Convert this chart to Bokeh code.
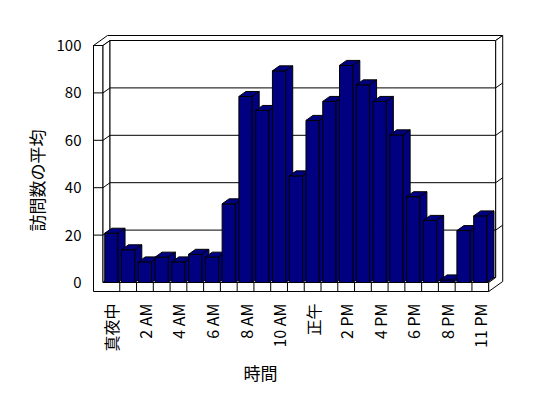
import math
from bokeh.plotting import figure
from bokeh.models import Range1d, FixedTicker, Title
from bokeh.embed import file_html
from bokeh.resources import INLINE

# ---- data ----
hours = ["真夜中", "1 AM", "2 AM", "3 AM", "4 AM", "5 AM", "6 AM", "7 AM",
         "8 AM", "9 AM", "10 AM", "11 AM", "正午", "1 PM", "2 PM", "3 PM",
         "4 PM", "5 PM", "6 PM", "7 PM", "8 PM", "10 PM", "11 PM"]
visits = [20.8, 13.8, 8.7, 10.7, 8.7, 11.9, 10.7, 33.2, 78.5, 72.6, 89.3, 45.0,
          68.4, 76.4, 91.6, 83.4, 76.4, 62.3, 36.2, 26.2, 1.1, 21.9, 28.1]
y_ticks = [0, 20, 40, 60, 80, 100]
x_label_idx = list(range(0, len(hours), 2))
x_title = "時間"
y_title = "訪問数の平均"

# ---- geometry (pixel scale -> data units) ----
PX = 16.77          # px per category
PY = 2.37           # px per value unit
DX = 7.0 / PX       # oblique depth offset
DY = 5.0 / PY
L1 = -0.5
R = len(hours) - 0.5
L0 = L1 - 9.5 / PX
YB = -9.0 / PY
YT = 100.0
HW = 6.65 / PX

x_start = L1 - 11.5 / PX
x_end = x_start + 415 / PX
y_end = 252 / PY
y_start = -11 / PY

FONT = "Noto Sans CJK JP"

p = figure(width=548, height=398, output_backend="svg", toolbar_location=None,
           x_range=Range1d(x_start, x_end), y_range=Range1d(y_start, y_end),
           min_border_left=91, min_border_right=42, min_border_top=30,
           min_border_bottom=105)
p.outline_line_color = None
p.xgrid.visible = False
p.ygrid.visible = False
p.background_fill_color = "white"
p.border_fill_color = "white"

# ---- walls & floor ----
shapes = [
    [(L0, YT), (L1, YT), (L1, 0), (R, 0), (R, YB), (L0, YB)],
    [(L0, YT), (L1, YT), (L1 + DX, YT + DY), (R + DX, YT + DY), (R + 2 * DX, YT + 2 * DY), (L0 + 2 * DX, YT + 2 * DY)],
    [(L1, YT), (L1 + DX, YT + DY), (L1 + DX, DY), (L1, 0)],
    [(L1 + DX, YT + DY), (R + DX, YT + DY), (R + DX, DY), (L1 + DX, DY)],
    [(L1, 0), (R, 0), (R + DX, DY), (L1 + DX, DY)],
    [(R, 0), (R, YB), (R + 2 * DX, YB + 2 * DY), (R + 2 * DX, YT + 2 * DY), (R + DX, YT + DY), (R + DX, DY)],
]
p.patches([[q[0] for q in s] for s in shapes], [[q[1] for q in s] for s in shapes],
          fill_color="white", line_color="black", line_width=1, line_join="miter")

# gridlines
gx, gy = [], []
for v in y_ticks[1:-1]:
    gx.append([L0, L1, L1 + DX, R + DX, R + 2 * DX])
    gy.append([v, v, v + DY, v + DY, v + 2 * DY])
p.multi_line(gx, gy, line_color="black", line_width=1)

# floor ticks
tx = [L1 + k for k in range(1, len(hours))]
p.segment(x0=tx, y0=[0] * len(tx), x1=tx, y1=[YB] * len(tx), line_color="black", line_width=1)

# ---- bars ----
bx, by = [], []
for i, v in enumerate(visits):
    xl, xr = i - HW, i + HW
    bx.append([xl, xr, xr, xl]); by.append([0, 0, v, v])
    bx.append([xl, xr, xr + DX, xl + DX]); by.append([v, v, v + DY, v + DY])
    bx.append([xr, xr + DX, xr + DX, xr]); by.append([0, DY, v + DY, v])
p.patches(bx, by, fill_color="#000080", line_color="black", line_width=1, line_join="miter")

# ---- axes ----
p.yaxis.ticker = FixedTicker(ticks=y_ticks)
p.yaxis.axis_line_color = None
p.yaxis.major_tick_line_color = None
p.yaxis.minor_tick_line_color = None
p.yaxis.major_tick_out = 0
p.yaxis.major_tick_in = 0
p.yaxis.major_label_standoff = 10
p.yaxis.major_label_text_font = FONT
p.yaxis.major_label_text_font_size = "15px"
p.yaxis.major_label_text_color = "black"

p.xaxis.ticker = FixedTicker(ticks=x_label_idx)
p.xaxis.major_label_overrides = {i: hours[i] for i in x_label_idx}
p.xaxis.major_label_orientation = math.pi / 2
p.xaxis.axis_line_color = None
p.xaxis.major_tick_line_color = None
p.xaxis.minor_tick_line_color = None
p.xaxis.major_tick_out = 0
p.xaxis.major_tick_in = 0
p.xaxis.major_label_standoff = 10
p.xaxis.major_label_text_font = FONT
p.xaxis.major_label_text_font_size = "16px"
p.xaxis.major_label_text_color = "black"

# axis titles (positioned like the original, off-centre)
xt = Title(text=x_title, align="left", offset=152, text_font=FONT,
           text_font_size="17px", text_font_style="normal", text_color="black",
           standoff=6)
p.add_layout(xt, "below")
yt = Title(text=y_title, align="left", offset=62, text_font=FONT,
           text_font_size="17px", text_font_style="normal", text_color="black",
           standoff=9)
p.add_layout(yt, "left")

open("out.html", "w").write(file_html(p, INLINE))
